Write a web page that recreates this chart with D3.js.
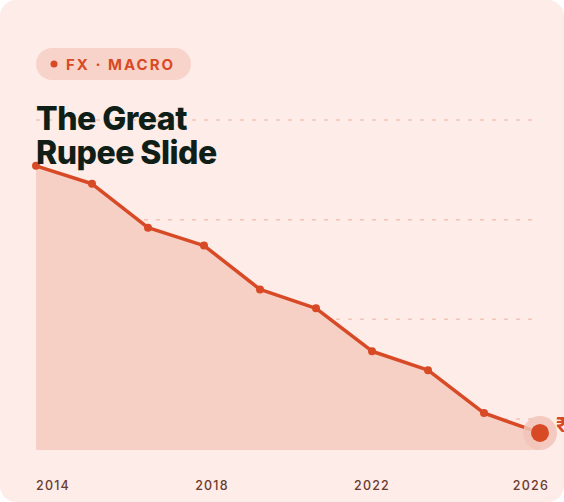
<!DOCTYPE html>
<html><head><meta charset="utf-8">
<script src="https://cdn.jsdelivr.net/npm/d3@7"></script>
<style>
body{margin:0;background:#fff;}
svg{display:block;font-family:Inter,sans-serif;}
</style></head><body>
<svg id="c" width="564" height="502"></svg>
<script>
// INR per USD, roughly evenly spaced readings
var rates = [59.6, 61.4, 65.8, 67.6, 72.0, 73.9, 78.2, 80.1, 84.4, 86.4];
var gridValues = [55, 65, 75, 85];
var yearTicks = [2014, 2018, 2022, 2026];
var yearNudge = [0, 8, 0, 9];

var W = 564, H = 502;
var svg = d3.select("#c");

svg.append("rect").attr("width", W).attr("height", H).attr("rx", 16)
  .style("fill", "#fdece7");

var x = d3.scaleLinear().domain([0, rates.length - 1]).range([36, 540]);
var xYear = d3.scaleLinear().domain([2014, 2026]).range([36, 540]);
var y = d3.scaleLinear().domain([55, 85]).range([120, 419]);

svg.selectAll(".grid").data(gridValues).enter().append("line")
  .attr("x1", 36).attr("x2", 540)
  .attr("y1", function(d){ return y(d); }).attr("y2", function(d){ return y(d); })
  .style("stroke", "#f2c4b8").style("stroke-width", 1.5).style("stroke-dasharray", "4 8");

var area = d3.area().x(function(d,i){ return x(i); })
  .y0(y(88.1)).y1(function(d){ return y(d); });
svg.append("path").datum(rates).attr("d", area).style("fill", "#f6cfc5");

var line = d3.line().x(function(d,i){ return x(i); }).y(function(d){ return y(d); });
svg.append("path").datum(rates).attr("d", line)
  .style("fill", "none").style("stroke", "#d84a26").style("stroke-width", 3.5)
  .style("stroke-linejoin", "round");

svg.selectAll(".pt").data(rates.slice(0, -1)).enter().append("circle")
  .attr("cx", function(d,i){ return x(i); }).attr("cy", function(d){ return y(d); })
  .attr("r", 4).style("fill", "#d84a26");

var last = rates.length - 1;
svg.append("circle").attr("cx", x(last)).attr("cy", y(rates[last])).attr("r", 17)
  .style("fill", "#f2c4b8").style("opacity", 0.85);
svg.append("circle").attr("cx", x(last)).attr("cy", y(rates[last])).attr("r", 9)
  .style("fill", "#d84a26");
svg.append("text").attr("x", x(last) + 16).attr("y", y(rates[last]) - 1)
  .style("font-size", "20px").style("font-weight", 700).style("fill", "#d84a26")
  .text("₹");

svg.selectAll(".yr").data(yearTicks).enter().append("text")
  .attr("x", function(d,i){ return xYear(d) + yearNudge[i]; })
  .attr("y", 490)
  .attr("text-anchor", function(d,i){ return i === 0 ? "start" : (i === yearTicks.length - 1 ? "end" : "middle"); })
  .style("font-size", "12.5px").style("font-weight", 500).style("letter-spacing", "1.2px").style("fill", "#6b3a30")
  .text(function(d){ return d; });

// pill tag
svg.append("rect").attr("x", 36).attr("y", 48).attr("width", 155).attr("height", 32).attr("rx", 16)
  .style("fill", "#f8d3c9");
svg.append("circle").attr("cx", 54).attr("cy", 64).attr("r", 3.5).style("fill", "#d84a26");
svg.append("text").attr("x", 66).attr("y", 70)
  .style("font-size", "15px").style("font-weight", 700).style("letter-spacing", "2px")
  .style("fill", "#d84a26").text("FX · MACRO");

svg.append("text").attr("x", 36).attr("y", 130)
  .style("font-size", "32px").style("font-weight", 800).style("letter-spacing", "-0.5px")
  .style("fill", "#0f1f18").text("The Great");
svg.append("text").attr("x", 36).attr("y", 164)
  .style("font-size", "32px").style("font-weight", 800).style("letter-spacing", "-0.5px")
  .style("fill", "#0f1f18").text("Rupee Slide");
</script>
</body></html>
